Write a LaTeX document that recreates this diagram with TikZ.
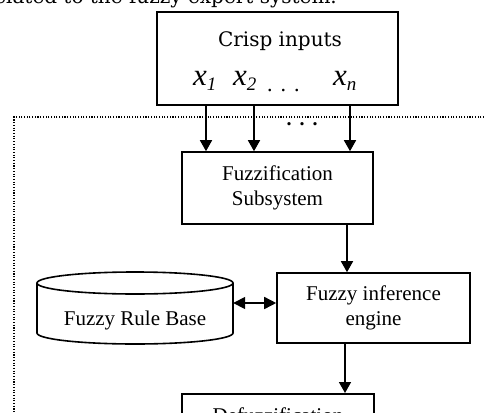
\documentclass[tikz,border=0pt]{standalone}
\usepackage{fontspec}
\setmainfont{Liberation Serif}
\newfontfamily\slabfont{DejaVu Serif}
\usetikzlibrary{arrows.meta}

\tikzset{
  box/.style={draw, line width=1.6pt, rectangle, inner sep=0pt, align=center,
              font=\fontsize{21}{25}\selectfont},
  lbl/.style={inner sep=0pt, font=\fontsize{21}{25}\selectfont},
  slab/.style={inner sep=0pt, font=\slabfont\fontsize{20}{22}\selectfont},
  var/.style={inner sep=0pt, font=\itshape\fontsize{31}{31}\selectfont},
  flow/.style={line width=1.6pt, -{Triangle[length=11pt,width=12pt]}},
  both/.style={line width=1.6pt, {Triangle[length=12pt,width=12pt]}-{Triangle[length=12pt,width=12pt]}},
  border/.style={line width=1.1pt, dash pattern=on 1.1pt off 1.6pt, black}
}
\newcommand{\sub}[1]{\raisebox{-5pt}{\fontsize{19}{19}\selectfont #1}}

\begin{document}
\begin{tikzpicture}[x=1pt, y=1pt]
  \clip (0,0) rectangle (484,-412);
  \fill[white] (0,0) rectangle (484,-412);

  % sentence running above the figure
  \node[slab, anchor=base east] (caption) at (337,-4) {related to the fuzzy expert system.};

  % dotted frame of the expert system
  \draw[border] (484,-117) -- (14,-117) -- (14,-412);

  % crisp inputs
  \node[box, minimum width=241pt, minimum height=93pt] (crisp) at (277.5,-58.5) {};
  \node[slab, anchor=base] (crisptitle) at (280,-47) {Crisp inputs};
  \node[var, anchor=base west] (xa) at (193,-85) {x\sub{1}};
  \node[var, anchor=base west] (xb) at (233,-85) {x\sub{2}};
  \node[inner sep=0pt, anchor=base west, font=\fontsize{22}{22}\selectfont] (xdots) at (267,-91) {.\hspace{8pt}.\hspace{8pt}.};
  \node[var, anchor=base west] (xc) at (333,-85) {x\sub{n}};

  % processing blocks
  \node[box, minimum width=191pt, minimum height=72pt] (fuzz) at (277.5,-188) {Fuzzification\\Subsystem};
  \node[box, minimum width=193pt, minimum height=70pt] (inf) at (373.5,-308) {Fuzzy inference\\engine};
  \node[box, minimum width=192pt, minimum height=72pt, anchor=north] (defuzz) at (278,-393) {};
  \node[lbl, anchor=base] (defuzztext) at ([yshift=-29pt]defuzz.north) {Defuzzification};

  % rule base cylinder
  \node[minimum width=196pt, minimum height=73pt, inner sep=0pt] (rb) at (135,-308.5) {};
  \draw[line width=1.6pt] (135,-283) ellipse [x radius=98, y radius=11];
  \draw[line width=1.6pt] (37,-283) -- (37,-333) arc [start angle=180, end angle=360, x radius=98, y radius=11] -- (233,-283);
  \node[lbl, anchor=base] (rbtext) at (135,-325) {Fuzzy Rule Base};

  % connectors
  \draw[flow] ([xshift=-71.5pt]crisp.south) -- ([xshift=-71.5pt]crisp.south |- fuzz.north);
  \draw[flow] ([xshift=-23.5pt]crisp.south) -- ([xshift=-23.5pt]crisp.south |- fuzz.north);
  \draw[flow] ([xshift=72.5pt]crisp.south) -- ([xshift=72.5pt]crisp.south |- fuzz.north);
  \node[inner sep=0pt, font=\fontsize{20}{20}\selectfont\bfseries] (odots) at (302,-124) {.\hspace{8pt}.\hspace{8pt}.};

  \draw[flow] ([xshift=69.5pt]fuzz.south) -- ([xshift=69.5pt]fuzz.south |- inf.north);
  \draw[flow] ([xshift=-28.5pt]inf.south) -- ([xshift=-28.5pt]inf.south |- defuzz.north);

  \coordinate (rbport) at ([yshift=5pt]inf.west);
  \draw[both] (rb.east |- rbport) -- (rbport);
\end{tikzpicture}
\end{document}
